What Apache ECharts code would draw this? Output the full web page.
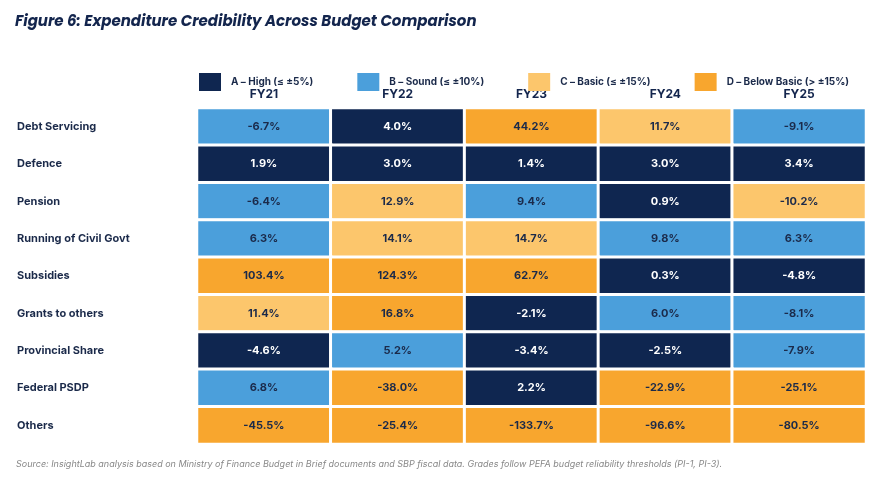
<!DOCTYPE html>
<html>
<head>
<meta charset="utf-8">
<script src="https://cdn.jsdelivr.net/npm/echarts@6/dist/echarts.min.js"></script>
<style>html,body{margin:0;background:#fff}#c{width:882px;height:490px}</style>
</head>
<body>
<div id="c"></div>
<script>
// 数据
const years = ['FY21', 'FY22', 'FY23', 'FY24', 'FY25'];
const rows = ['Debt Servicing', 'Defence', 'Pension', 'Running of Civil Govt', 'Subsidies',
    'Grants to others', 'Provincial Share', 'Federal PSDP', 'Others'];
const values = [
    [-6.7, 4.0, 44.2, 11.7, -9.1],
    [1.9, 3.0, 1.4, 3.0, 3.4],
    [-6.4, 12.9, 9.4, 0.9, -10.2],
    [6.3, 14.1, 14.7, 9.8, 6.3],
    [103.4, 124.3, 62.7, 0.3, -4.8],
    [11.4, 16.8, -2.1, 6.0, -8.1],
    [-4.6, 5.2, -3.4, -2.5, -7.9],
    [6.8, -38.0, 2.2, -22.9, -25.1],
    [-45.5, -25.4, -133.7, -96.6, -80.5]
];
const gradeLabels = ['A – High (≤ ±5%)', 'B – Sound (≤ ±10%)', 'C – Basic (≤ ±15%)', 'D – Below Basic (> ±15%)'];
const gradeColors = ['#0f2650', '#4b9fdb', '#fcc66c', '#f8a62e'];

// PEFA 阈值分级
function grade(v) {
    const a = Math.abs(v);
    if (a <= 5) return 0;
    if (a <= 10) return 1;
    if (a <= 15) return 2;
    return 3;
}

const data = [];
rows.forEach((r, i) => {
    years.forEach((y, j) => {
        data.push([j, i, values[i][j], grade(values[i][j])]);
    });
});

const chart = echarts.init(document.getElementById('c'));
chart.setOption({
    animation: false,
    title: {
        text: 'Figure 6: Expenditure Credibility Across Budget Comparison',
        left: 10, top: 10,
        textStyle: { fontFamily: 'Poppins, Inter, sans-serif', fontStyle: 'italic', fontWeight: 'bold', fontSize: 15, color: '#13254d' }
    },
    graphic: [{
        type: 'text', left: 16, top: 460,
        style: {
            text: 'Source: InsightLab analysis based on Ministry of Finance Budget in Brief documents and SBP fiscal data. Grades follow PEFA budget reliability thresholds (PI-1, PI-3).',
            fontFamily: 'Inter, sans-serif', fontStyle: 'italic', fontSize: 9, fill: '#888'
        }
    }],
    visualMap: {
        type: 'piecewise',
        dimension: 3,
        orient: 'horizontal',
        left: 184, top: 58,
        itemWidth: 22, itemHeight: 18,
        itemGap: 44,
        itemSymbol: 'rect',
        selectedMode: false,
        textGap: 10,
        textStyle: { fontFamily: 'Inter, sans-serif', fontSize: 10, fontWeight: 'bold', color: '#1b2a4a' },
        pieces: gradeLabels.map((l, k) => ({ value: k, label: l, color: gradeColors[k] }))
    },
    grid: { left: 197, right: 16, top: 108, bottom: 46 },
    xAxis: {
        type: 'category', data: years, position: 'top',
        axisLine: { show: false }, axisTick: { show: false },
        axisLabel: { fontFamily: 'Inter, sans-serif', fontWeight: 'bold', fontSize: 12, color: '#13254d', margin: 8 }
    },
    yAxis: {
        type: 'category', data: rows, inverse: true,
        axisLine: { show: false }, axisTick: { show: false },
        axisLabel: { fontFamily: 'Inter, sans-serif', fontWeight: 'bold', fontSize: 11, color: '#1b2a4a', align: 'left', margin: 180 }
    },
    series: [{
        type: 'heatmap',
        data: data,
        itemStyle: { borderColor: '#fff', borderWidth: 3 },
        label: {
            show: true,
            fontFamily: 'Inter, sans-serif', fontSize: 11, fontWeight: 'bold',
            formatter: p => p.value[2].toFixed(1) + '%',
            color: '#1b2a4a'
        },
        emphasis: { disabled: true }
    }]
});
// 深色格子用白字
chart.setOption({
    series: [{
        data: data.map(d => d[3] === 0
            ? { value: d, label: { color: '#fff' } }
            : { value: d })
    }]
});
</script>
</body>
</html>
